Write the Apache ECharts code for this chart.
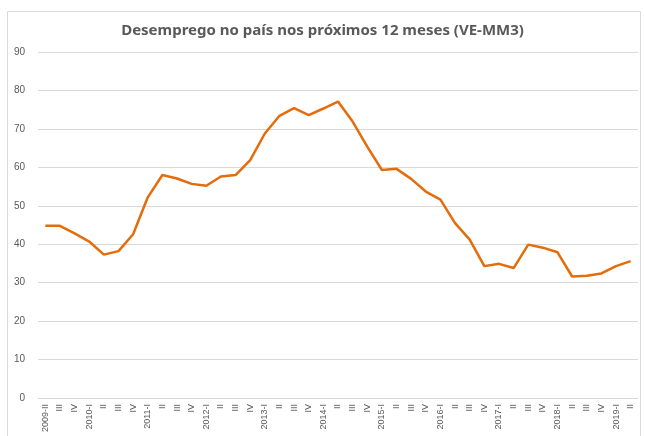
<!DOCTYPE html>
<html><head><meta charset="utf-8">
<script src="https://cdn.jsdelivr.net/npm/echarts@6/dist/echarts.min.js"></script>
<style>html,body{margin:0;padding:0;background:#fff}#c{width:645px;height:436px}</style>
</head><body><div id="c"></div>
<script>
const categories = ["2009-II","III","IV","2010-I","II","III","IV","2011-I","II","III","IV","2012-I","II","III","IV","2013-I","II","III","IV","2014-I","II","III","IV","2015-I","II","III","IV","2016-I","II","III","IV","2017-I","II","III","IV","2018-I","II","III","IV","2019-I","II"];
const values = [44.8,44.8,42.8,40.7,37.3,38.2,42.6,52.2,58.0,57.1,55.7,55.2,57.6,58.0,61.9,68.8,73.4,75.4,73.6,75.3,77.1,71.9,65.4,59.3,59.6,57.0,53.7,51.6,45.5,41.2,34.3,34.9,33.8,39.9,39.1,37.9,31.6,31.8,32.4,34.3,35.6];
const yTicks = [0,10,20,30,40,50,60,70,80,90];
const titleText = "Desemprego no país nos próximos 12 meses (VE-MM3)";

const chart = echarts.init(document.getElementById('c'));
chart.setOption({
  animation:false,
  title:{text:titleText,left:'center',top:18,textStyle:{fontFamily:'Noto Sans',fontSize:15,fontWeight:'bold',color:'#595959'}},
  graphic:[{type:'rect',shape:{x:7.5,y:11.5,width:633,height:430},style:{fill:'none',stroke:'#d9d9d9',lineWidth:1},silent:true}],
  grid:{left:38,right:7,top:52,bottom:38,containLabel:false},
  xAxis:{type:'category',data:categories,boundaryGap:true,
    axisLine:{show:true,lineStyle:{color:'#d9d9d9',width:1}},axisTick:{show:false},
    axisLabel:{interval:0,rotate:90,fontFamily:'Liberation Sans',fontSize:9,color:'#595959',margin:6}},
  yAxis:{type:'value',min:yTicks[0],max:yTicks[yTicks.length-1],interval:10,
    axisLine:{show:false},axisTick:{show:false},
    axisLabel:{fontFamily:'Liberation Sans',fontSize:10,color:'#595959',margin:13},
    splitLine:{lineStyle:{color:'#d9d9d9',width:1}}},
  series:[{type:'line',data:values,symbol:'none',lineStyle:{color:'#E46C0A',width:2.5}}]
});
</script></body></html>
